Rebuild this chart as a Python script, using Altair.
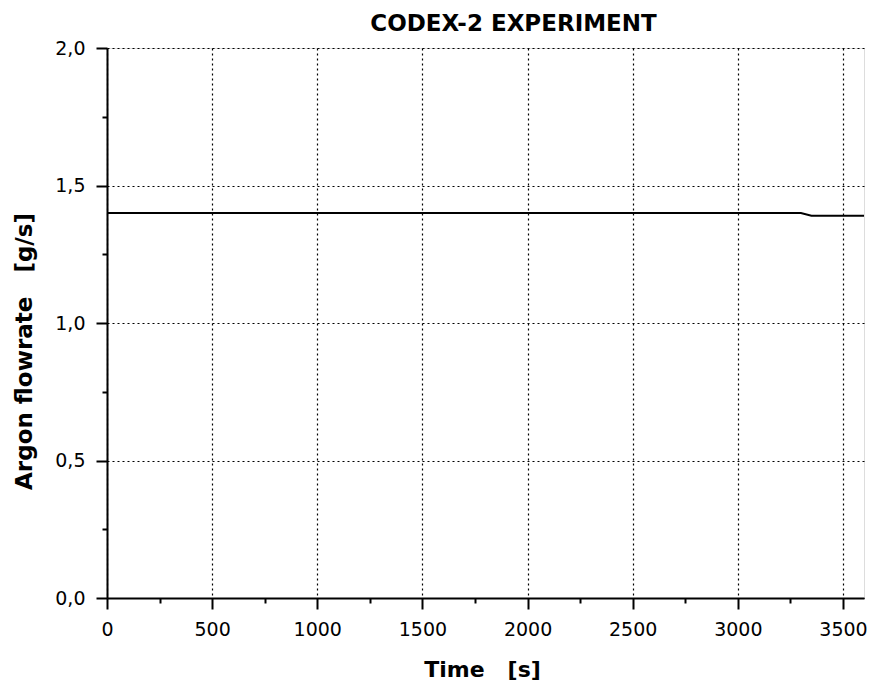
import altair as alt
import pandas as pd

# data
time_s = [0, 300, 600, 900, 1200, 1500, 1800, 2100, 2400, 2700, 3000, 3300, 3350, 3600]
flow_gs = [1.40, 1.40, 1.40, 1.40, 1.40, 1.40, 1.40, 1.40, 1.40, 1.40, 1.40, 1.40, 1.39, 1.39]

x_tick_values = list(range(0, 3601, 250))
y_tick_values = [0.0, 0.25, 0.5, 0.75, 1.0, 1.25, 1.5, 1.75, 2.0]

chart_title = "CODEX-2 EXPERIMENT"
x_title = "Time\u00a0\u00a0\u00a0[s]"
y_title = "Argon flowrate\u00a0\u00a0\u00a0[g/s]"

df = pd.DataFrame({"t": time_s, "f": flow_gs})

FONT = "DejaVu Sans"

x_axis = alt.Axis(
    values=x_tick_values,
    labelExpr="datum.value % 500 === 0 ? format(datum.value, 'd') : ''",
    tickSize={"condition": {"test": "datum.value % 500 === 0", "value": 11}, "value": 5},
    gridOpacity={"condition": {"test": "datum.value % 500 === 0", "value": 1}, "value": 0},
    grid=True,
    gridColor="black",
    gridDash=[2, 3],
    gridWidth=1.2,
    domainColor="black",
    domainWidth=2,
    tickColor="black",
    tickWidth=2,
    labelFont=FONT,
    labelFontSize=19,
    labelColor="black",
    labelPadding=11,
    labelFlush=False,
    labelOverlap=False,
    title=x_title,
    titleFont=FONT,
    titleFontSize=22,
    titleFontWeight="bold",
    titleColor="black",
    titleX=375,
    titleY=78,
    titleAlign="center",
    titleBaseline="alphabetic",
)

y_axis = alt.Axis(
    values=y_tick_values,
    labelExpr="datum.value % 0.5 === 0 ? replace(format(datum.value, '.1f'), '.', ',') : ''",
    tickSize={"condition": {"test": "datum.value % 0.5 === 0", "value": 11}, "value": 5},
    gridOpacity={"condition": {"test": "datum.value % 0.5 === 0", "value": 1}, "value": 0},
    grid=True,
    gridColor="black",
    gridDash=[2, 3],
    gridWidth=1.2,
    domainColor="black",
    domainWidth=2,
    tickColor="black",
    tickWidth=2,
    labelFont=FONT,
    labelFontSize=19,
    labelColor="black",
    labelPadding=11,
    labelFlush=False,
    labelOverlap=False,
    title=y_title,
    titleFont=FONT,
    titleFontSize=23,
    titleFontWeight="bold",
    titleColor="black",
    titleX=-76,
    titleY=303,
    titleAngle=-90,
    titleAlign="center",
    titleBaseline="alphabetic",
)

chart = (
    alt.Chart(df)
    .mark_line(color="black", strokeWidth=2)
    .encode(
        x=alt.X("t:Q", scale=alt.Scale(domain=[0, 3600], nice=False, zero=False), axis=x_axis),
        y=alt.Y("f:Q", scale=alt.Scale(domain=[0, 2.0], nice=False), axis=y_axis),
    )
    .properties(
        width=757,
        height=550,
        title=alt.TitleParams(
            text=chart_title,
            font=FONT,
            fontSize=23,
            fontWeight="bold",
            color="black",
            anchor="middle",
            dx=28,
            offset=3,
        ),
        autosize=alt.AutoSizeParams(type="none"),
        padding={"left": 99, "top": 40, "right": 3, "bottom": 83},
    )
    .configure_view(stroke="black", strokeWidth=2)
    .configure(background="white")
)

chart.save("out.html", embed_options={"renderer": "svg", "actions": False})
